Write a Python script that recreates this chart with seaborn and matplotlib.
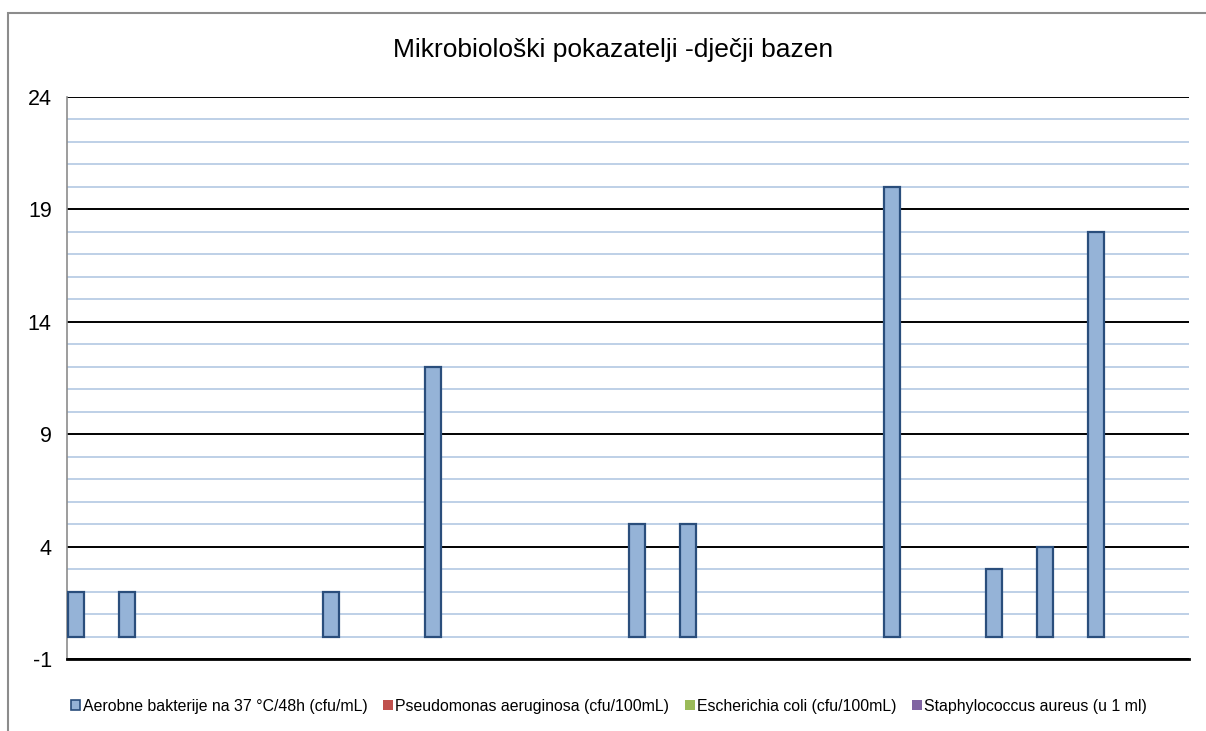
import numpy as np
import pandas as pd
import matplotlib.pyplot as plt
import seaborn as sns
from matplotlib.patches import Rectangle

# data (22 sampling dates, only the first series is non-zero)
categories = [str(i) for i in range(1, 23)]
aerobne = [2, 2, 0, 0, 0, 2, 0, 12, 0, 0, 0, 5, 5, 0, 0, 0, 20, 0, 3, 4, 18, 0]
pseudomonas = [0] * 22
ecoli = [0] * 22
staph = [0] * 22

series_names = ['Aerobne bakterije na 37 °C/48h (cfu/mL)',
                'Pseudomonas aeruginosa (cfu/100mL)',
                'Escherichia coli (cfu/100mL)',
                'Staphylococcus aureus (u 1 ml)']
colors = ['#95b3d7', '#c0504d', '#9bbb59', '#8064a2']

df = pd.DataFrame({
    'datum': categories * 4,
    'vrijednost': aerobne + pseudomonas + ecoli + staph,
    'serija': np.repeat(series_names, len(categories)),
})

sns.set_style('white', {'text.color': 'black', 'ytick.color': 'black'})
plt.rcParams['font.family'] = ['Liberation Sans', 'DejaVu Sans']
plt.rcParams['axes.unicode_minus'] = False

fig = plt.figure(figsize=(12.06, 7.31), dpi=100)
ax = fig.add_axes([67/1206, 1 - 659/731, (1189 - 67)/1206, (659 - 97)/731])

sns.barplot(data=df, x='datum', y='vrijednost', hue='serija', hue_order=series_names,
            palette=colors, saturation=1, width=1.255, linewidth=0, ax=ax,
            legend=False, zorder=3)
for bar in ax.containers[0]:
    if bar.get_height() > 0:
        bar.set_edgecolor('#2a4e7c')
        bar.set_linewidth(1.6)

ax.set_xlim(-0.645, 21.355)
ax.set_ylim(-1, 24)
ax.set_yticks(np.arange(-1, 25, 5))
ax.set_yticks(np.arange(-1, 25, 1), minor=True)
ax.grid(which='minor', axis='y', color='#b9cde5', linewidth=1.3, zorder=1)
ax.grid(which='major', axis='y', color='black', linewidth=1.4, zorder=2)
ax.set_axisbelow(True)
ax.set_xticks([])
ax.tick_params(axis='y', which='both', length=0, labelsize=15.5, pad=11, labelcolor='black')
ax.set_xlabel('')
ax.set_ylabel('')
for side in ['top', 'right']:
    ax.spines[side].set_visible(False)
ax.spines['left'].set_color('#8c8c8c')
ax.spines['left'].set_linewidth(1.2)
ax.spines['bottom'].set_color('black')
ax.spines['bottom'].set_linewidth(2)

fig.text(613/1206, 1 - 50/731, 'Mikrobiološki pokazatelji -dječji bazen',
         ha='center', va='center', fontsize=19, color='black')

# legend with small square markers like the original
handles = [Rectangle((0, 0), 1, 1, facecolor=colors[0], edgecolor='#2a4e7c', linewidth=1.2)]
handles += [Rectangle((0, 0), 1, 1, facecolor=c, edgecolor='none') for c in colors[1:]]
leg = fig.legend(handles, series_names, loc='center', bbox_to_anchor=(609/1206, 1 - 706/731),
                 ncol=4, frameon=False, fontsize=11.4, handlelength=0.6, handleheight=0.6,
                 handletextpad=0.15, columnspacing=1.0, borderaxespad=0)
for t in leg.get_texts():
    t.set_color('black')

# outer chart border (cropped on the right and bottom in the original)
fig.patches.append(Rectangle((8/1206, -0.1), 1.2, 1 - 13/731 + 0.1, transform=fig.transFigure,
                             fill=False, edgecolor='#8c8c8c', linewidth=1.5))

fig.savefig('out.png', dpi=100)
